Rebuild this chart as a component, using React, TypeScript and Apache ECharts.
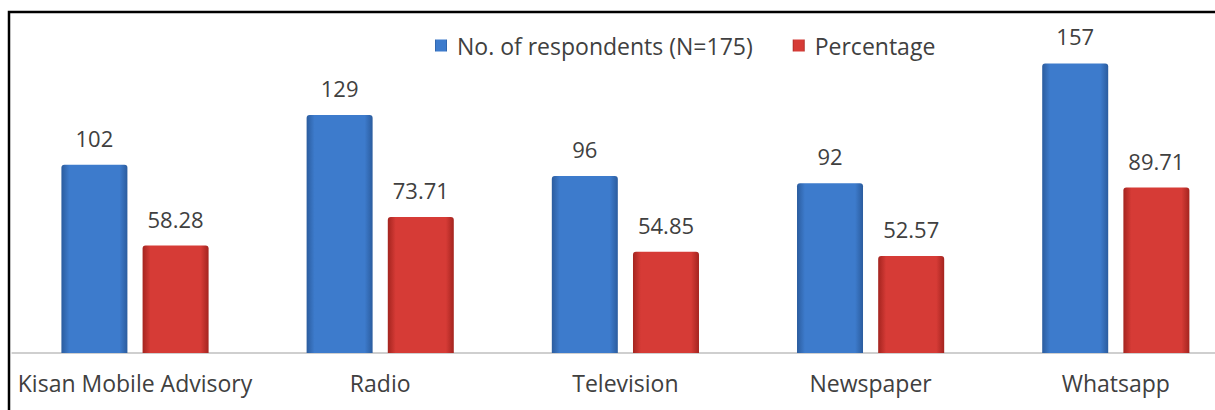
import React, { useEffect, useRef } from "react";
import * as echarts from "echarts";

const categories = ["Kisan Mobile Advisory", "Radio", "Television", "Newspaper", "Whatsapp"];
const respondents = [102, 129, 96, 92, 157];
const percentage = [58.28, 73.71, 54.85, 52.57, 89.71];
const seriesNames = ["No. of respondents (N=175)", "Percentage"];

const FONT = "'Open Sans', sans-serif";

function barGradient(edge: string, mid: string) {
  return new echarts.graphic.LinearGradient(0, 0, 1, 0, [
    { offset: 0, color: edge },
    { offset: 0.12, color: mid },
    { offset: 0.88, color: mid },
    { offset: 1, color: edge },
  ]);
}

export default function App() {
  const ref = useRef<HTMLDivElement>(null);
  useEffect(() => {
    document.body.style.margin = "0";
    const chart = echarts.init(ref.current!, null, { renderer: "svg" });
    const label = {
      show: true,
      position: "top" as const,
      distance: 16,
      color: "#404040",
      fontSize: 22,
      fontFamily: FONT,
    };
    chart.setOption({
      animation: false,
      backgroundColor: "#ffffff",
      legend: {
        data: seriesNames,
        left: 430,
        top: 29,
        itemWidth: 12,
        itemHeight: 12,
        itemGap: 40,
        icon: "rect",
        textStyle: { color: "#404040", fontSize: 23, fontFamily: FONT, padding: [0, 0, 0, 5] },
      },
      grid: { left: 12.4, width: 1226, top: 21, bottom: 57, outerBoundsMode: "none" },
      xAxis: {
        type: "category",
        data: categories,
        axisLine: { show: true, lineStyle: { color: "#cfcfcf", width: 2 } },
        axisTick: { show: false },
        axisLabel: { color: "#404040", fontSize: 23, fontFamily: FONT, margin: 18, interval: 0 },
      },
      yAxis: {
        type: "value",
        min: 0,
        max: 180,
        show: false,
        splitLine: { show: false },
      },
      series: [
        {
          name: seriesNames[0],
          type: "bar",
          data: respondents,
          barWidth: 66,
          barGap: "23%",
          color: "#3c78c8",
          itemStyle: {
            color: barGradient("#2b5c9e", "#3d7bcc"),
            borderRadius: [3, 3, 0, 0],
          },
          label,
        },
        {
          name: seriesNames[1],
          type: "bar",
          data: percentage,
          barWidth: 66,
          color: "#cc3330",
          itemStyle: {
            color: barGradient("#a4241f", "#d63b36"),
            borderRadius: [3, 3, 0, 0],
          },
          label,
        },
      ],
      graphic: [
        {
          type: "rect",
          shape: { x: 9, y: 12, width: 1400, height: 600 },
          style: { fill: "none", stroke: "#000000", lineWidth: 2.5 },
          silent: true,
          z: 100,
        },
      ],
    });
    return () => chart.dispose();
  }, []);
  return <div ref={ref} style={{ width: 1215, height: 410 }} />;
}
